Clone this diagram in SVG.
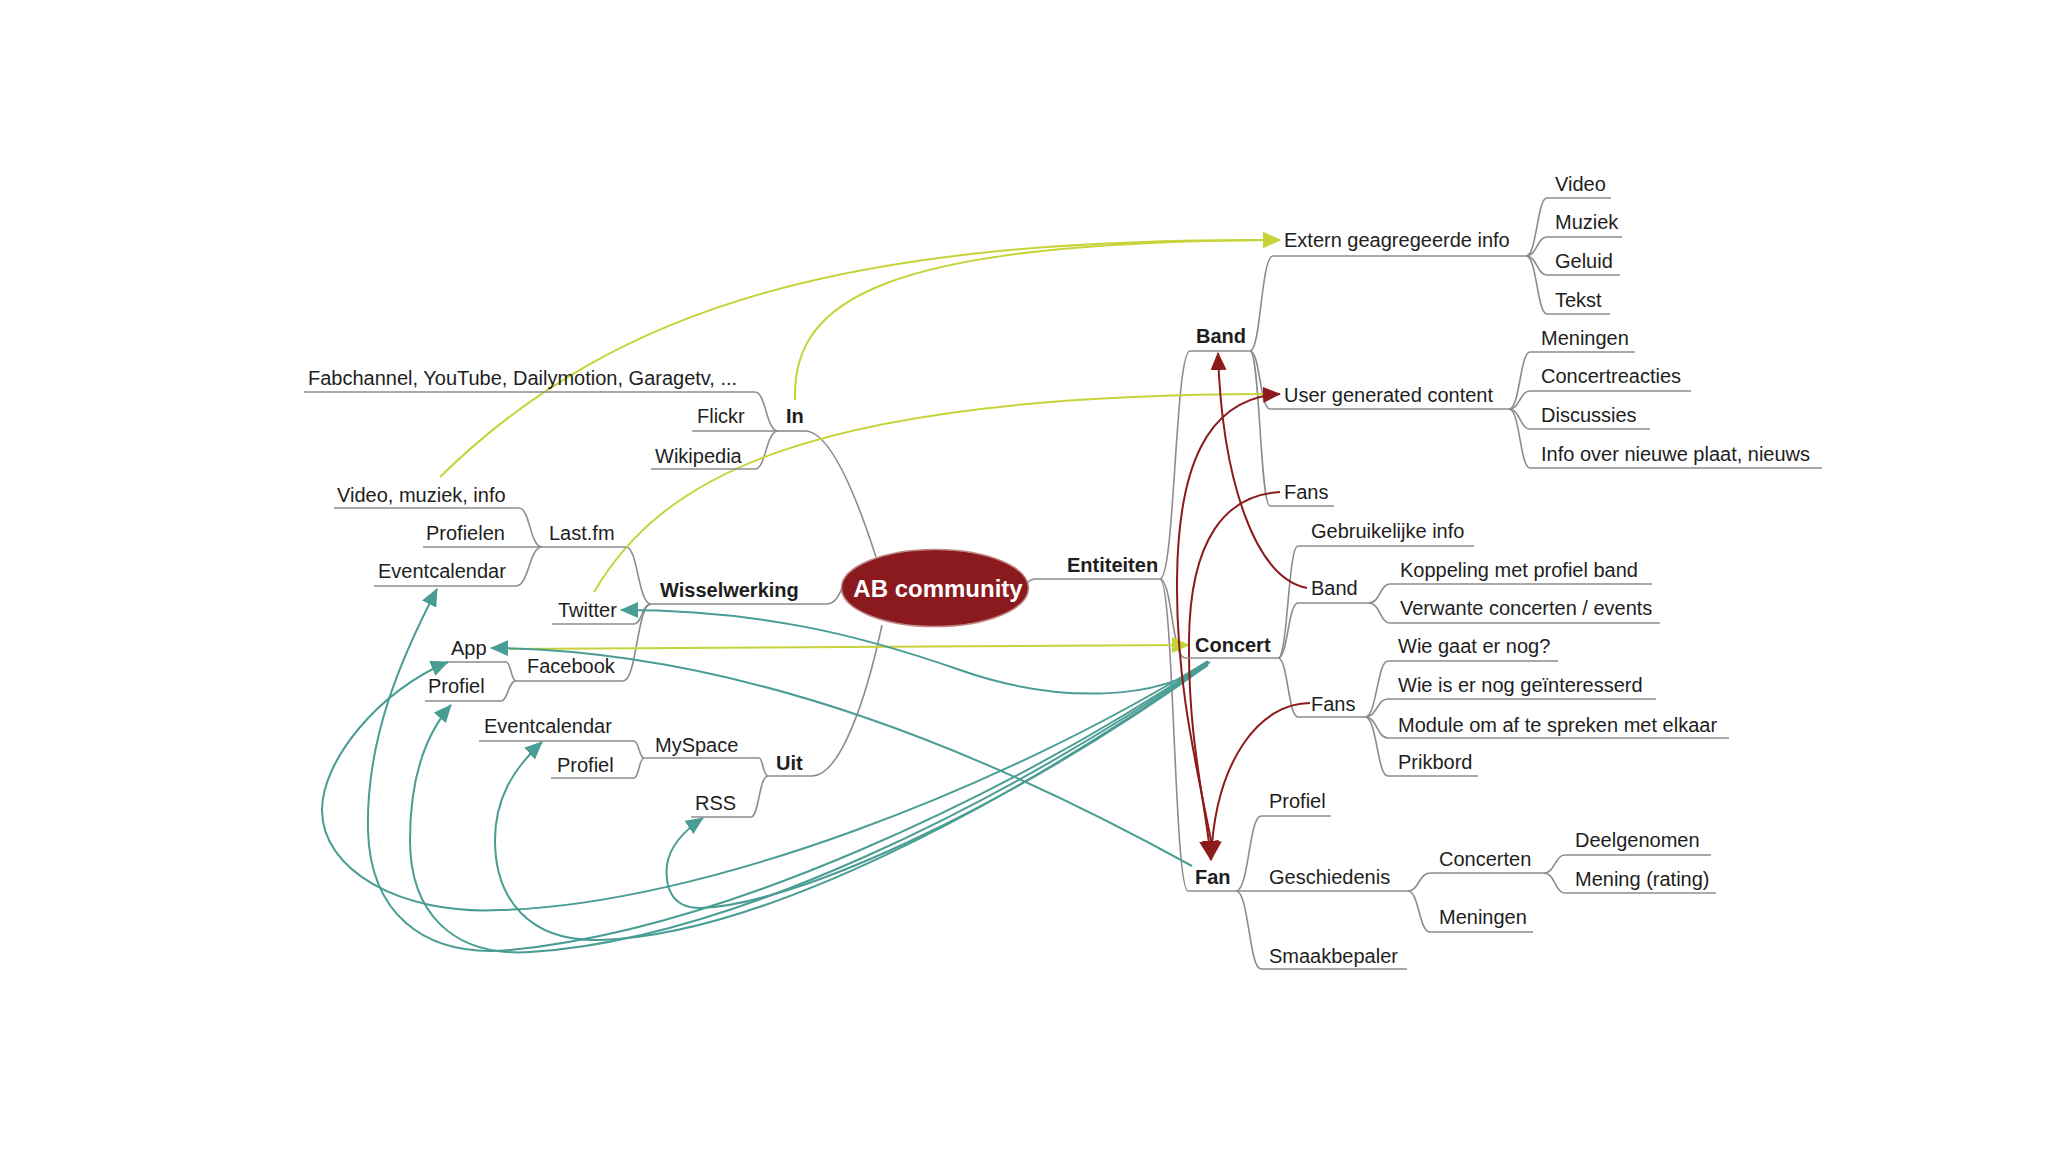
<svg xmlns="http://www.w3.org/2000/svg" width="2048" height="1157" viewBox="0 0 2048 1157">
<defs>
<style>
.t{font-family:"Liberation Sans",Arial,Helvetica,sans-serif;font-size:20px;fill:#1e1e1e}
.b{font-weight:bold}
.u{fill:none;stroke:#8c8c8c;stroke-width:1.6}
.l{fill:none;stroke:#8c8c8c;stroke-width:1.6}
.teal{fill:none;stroke:#4a9d94;stroke-width:2}
.yel{fill:none;stroke:#c6d43a;stroke-width:2}
.red{fill:none;stroke:#8c1b1b;stroke-width:2}
</style>
<marker id="aT" viewBox="0 0 18 16" refX="17" refY="8" markerWidth="18" markerHeight="16" markerUnits="userSpaceOnUse" orient="auto"><path d="M0,0 L18,8 L0,16 Z" fill="#4a9d94"/></marker>
<marker id="aY" viewBox="0 0 18 16" refX="17" refY="8" markerWidth="18" markerHeight="16" markerUnits="userSpaceOnUse" orient="auto"><path d="M0,0 L18,8 L0,16 Z" fill="#c6d43a"/></marker>
<marker id="aR" viewBox="0 0 18 16" refX="17" refY="8" markerWidth="18" markerHeight="16" markerUnits="userSpaceOnUse" orient="auto"><path d="M0,0 L18,8 L0,16 Z" fill="#8c1b1b"/></marker>
<marker id="aRL" viewBox="0 0 20 20" refX="19" refY="10" markerWidth="20" markerHeight="20" markerUnits="userSpaceOnUse" orient="auto"><path d="M0,0 L20,10 L0,20 Z" fill="#8c1b1b"/></marker>
</defs>
<rect width="2048" height="1157" fill="#ffffff"/>

<g id="connectors">
<!-- root links -->
<path class="l" d="M805,431 C830,431 856,495 876,557"/>
<path class="l" d="M826,604 C834,604 838,598 842,588"/>
<path class="l" d="M812,776 C840,776 866,700 882,625"/>
<path class="l" d="M1027,583 C1030,580 1032,579 1036,579"/>
<!-- left tree -->
<path class="l" d="M778,431 C766,431 766,392 755,392"/>
<path class="l" d="M778,431 C766,431 766,469 755,469"/>
<path class="l" d="M651,604 C638,604 638,547 626,547"/>
<path class="l" d="M651,604 C642,604 642,624 634,624"/>
<path class="l" d="M651,604 C637,604 637,681 623,681"/>
<path class="l" d="M542,547 C530,547 530,508 519,508"/>
<path class="l" d="M542,547 C529,547 529,586 516,586"/>
<path class="l" d="M516,681 C511,681 511,662 506,662"/>
<path class="l" d="M516,681 C508,681 508,701 501,701"/>
<path class="l" d="M768,776 C763,776 763,758 759,758"/>
<path class="l" d="M768,776 C759,776 759,817 751,817"/>
<path class="l" d="M644,758 C639,758 639,741 634,741"/>
<path class="l" d="M644,758 C639,758 639,778 634,778"/>
<!-- right tree -->
<path class="l" d="M1160,579 C1175,579 1175,351 1190,351"/>
<path class="l" d="M1160,579 C1172,579 1172,658 1185,658"/>
<path class="l" d="M1160,579 C1174,579 1174,891 1188,891"/>
<path class="l" d="M1250,351 C1261,351 1261,256 1273,256"/>
<path class="l" d="M1250,351 C1260,351 1260,409 1270,409"/>
<path class="l" d="M1250,351 C1260,351 1260,506 1270,506"/>
<path class="l" d="M1526,256 C1537,256 1537,198 1547,198"/>
<path class="l" d="M1526,256 C1537,256 1537,237 1547,237"/>
<path class="l" d="M1526,256 C1537,256 1537,275 1547,275"/>
<path class="l" d="M1526,256 C1537,256 1537,314 1547,314"/>
<path class="l" d="M1509,409 C1520,409 1520,352 1530,352"/>
<path class="l" d="M1509,409 C1520,409 1520,391 1530,391"/>
<path class="l" d="M1509,409 C1520,409 1520,429 1530,429"/>
<path class="l" d="M1509,409 C1520,409 1520,468 1530,468"/>
<path class="l" d="M1278,658 C1288,658 1288,546 1298,546"/>
<path class="l" d="M1278,658 C1288,658 1288,603 1298,603"/>
<path class="l" d="M1278,658 C1288,658 1288,717 1298,717"/>
<path class="l" d="M1369,603 C1380,603 1380,584 1390,584"/>
<path class="l" d="M1369,603 C1380,603 1380,623 1390,623"/>
<path class="l" d="M1365,717 C1377,717 1377,661 1388,661"/>
<path class="l" d="M1365,717 C1377,717 1377,699 1388,699"/>
<path class="l" d="M1365,717 C1377,717 1377,738 1388,738"/>
<path class="l" d="M1365,717 C1377,717 1377,776 1388,776"/>
<path class="l" d="M1236,891 C1249,891 1249,816 1261,816"/>
<path class="l" d="M1236,891 C1249,891 1249,969 1261,969"/>
<path class="l" d="M1408,891 C1419,891 1419,873 1430,873"/>
<path class="l" d="M1408,891 C1419,891 1419,932 1430,932"/>
<path class="l" d="M1544,873 C1555,873 1555,855 1565,855"/>
<path class="l" d="M1544,873 C1555,873 1555,893 1565,893"/>
<!-- yellow relations -->
<path class="yel" d="M440,477 C620,300 860,238 1280,240" marker-end="url(#aY)"/>
<path class="yel" d="M795,400 C792,300 880,242 1280,240" marker-end="url(#aY)"/>
<path class="yel" d="M594,592 C660,480 800,395 1266,394"/>
<path class="yel" d="M509,649 L1189,645" marker-end="url(#aY)"/>
<!-- teal relations -->
<path class="teal" d="M1208,661 C1000,790 700,905 500,910 C400,915 322,870 322,810 C322,760 380,690 448,662" marker-end="url(#aT)"/>
<path class="teal" d="M1208,662 C1000,800 720,930 510,950 C420,958 370,910 368,830 C366,740 400,660 437,589" marker-end="url(#aT)"/>
<path class="teal" d="M1208,663 C1000,805 730,940 530,952 C450,957 410,910 410,840 C410,780 425,735 451,705" marker-end="url(#aT)"/>
<path class="teal" d="M1208,664 C1000,810 760,935 600,940 C530,942 495,900 495,840 C495,800 512,770 542,742" marker-end="url(#aT)"/>
<path class="teal" d="M1208,665 C1020,800 800,905 700,908 C670,908 665,885 667,865 C670,845 685,830 703,818" marker-end="url(#aT)"/>
<path class="teal" d="M1210,662 C1160,700 1060,705 960,670 C860,635 760,610 621,610" marker-end="url(#aT)"/>
<path class="teal" d="M1192,866 C1000,760 750,650 491,648" marker-end="url(#aT)"/>
<!-- red relations -->
<path class="red" d="M1307,588 C1255,578 1222,480 1218,353" marker-end="url(#aR)"/>
<path class="red" d="M1212,845 C1195,760 1176,680 1177,580 C1178,470 1205,398 1280,394" marker-end="url(#aR)"/>
<path class="red" d="M1280,492 C1225,495 1190,540 1189,640 C1188,740 1205,800 1211,860" marker-end="url(#aRL)"/>
<path class="red" d="M1310,703 C1260,703 1215,760 1211,860" marker-end="url(#aRL)"/>
</g>

<g id="root">
<ellipse cx="935" cy="588" rx="93.5" ry="38.5" fill="#8b1a1f" stroke="#c08585" stroke-width="1.5"/>
<text x="938" y="597" text-anchor="middle" style="font-family:'Liberation Sans',Arial,sans-serif;font-size:24px;font-weight:bold;fill:#ffffff">AB community</text>
</g>

<g id="n-in"><text class="t b" x="786" y="423">In</text><path class="u" d="M778,431 H805"/></g>
<g id="n-fab"><text class="t" x="308" y="385">Fabchannel, YouTube, Dailymotion, Garagetv, ...</text><path class="u" d="M304,392 H755"/></g>
<g id="n-flickr"><text class="t" x="697" y="423">Flickr</text><path class="u" d="M692,431 H778"/></g>
<g id="n-wiki"><text class="t" x="655" y="463">Wikipedia</text><path class="u" d="M651,469 H755"/></g>
<g id="n-wissel"><text class="t b" x="660" y="597">Wisselwerking</text><path class="u" d="M651,604 H826"/></g>
<g id="n-lastfm"><text class="t" x="549" y="540">Last.fm</text><path class="u" d="M542,547 H626"/></g>
<g id="n-vmi"><text class="t" x="337" y="502">Video, muziek, info</text><path class="u" d="M334,508 H519"/></g>
<g id="n-profielen"><text class="t" x="426" y="540">Profielen</text><path class="u" d="M423,547 H542"/></g>
<g id="n-eventcal1"><text class="t" x="378" y="578">Eventcalendar</text><path class="u" d="M374,586 H516"/></g>
<g id="n-twitter"><text class="t" x="558" y="617">Twitter</text><path class="u" d="M552,624 H634"/></g>
<g id="n-facebook"><text class="t" x="527" y="673">Facebook</text><path class="u" d="M516,681 H623"/></g>
<g id="n-app"><text class="t" x="451" y="655">App</text><path class="u" d="M448,662 H506"/></g>
<g id="n-profiel1"><text class="t" x="428" y="693">Profiel</text><path class="u" d="M425,701 H501"/></g>
<g id="n-uit"><text class="t b" x="776" y="770">Uit</text><path class="u" d="M768,776 H812"/></g>
<g id="n-myspace"><text class="t" x="655" y="752">MySpace</text><path class="u" d="M644,758 H759"/></g>
<g id="n-rss"><text class="t" x="695" y="810">RSS</text><path class="u" d="M691,817 H751"/></g>
<g id="n-eventcal2"><text class="t" x="484" y="733">Eventcalendar</text><path class="u" d="M479,741 H634"/></g>
<g id="n-profiel2"><text class="t" x="557" y="772">Profiel</text><path class="u" d="M551,778 H634"/></g>

<g id="n-entiteiten"><text class="t b" x="1067" y="572">Entiteiten</text><path class="u" d="M1036,579 H1160"/></g>
<g id="n-band"><text class="t b" x="1196" y="343">Band</text><path class="u" d="M1190,351 H1250"/></g>
<g id="n-extern"><text class="t" x="1284" y="247">Extern geagregeerde info</text><path class="u" d="M1273,256 H1526"/></g>
<g id="n-video"><text class="t" x="1555" y="191">Video</text><path class="u" d="M1547,198 H1611"/></g>
<g id="n-muziek"><text class="t" x="1555" y="229">Muziek</text><path class="u" d="M1547,237 H1622"/></g>
<g id="n-geluid"><text class="t" x="1555" y="268">Geluid</text><path class="u" d="M1547,275 H1620"/></g>
<g id="n-tekst"><text class="t" x="1555" y="307">Tekst</text><path class="u" d="M1547,314 H1610"/></g>
<g id="n-ugc"><text class="t" x="1284" y="402">User generated content</text><path class="u" d="M1270,409 H1509"/></g>
<g id="n-meningen1"><text class="t" x="1541" y="345">Meningen</text><path class="u" d="M1530,352 H1635"/></g>
<g id="n-concertreacties"><text class="t" x="1541" y="383">Concertreacties</text><path class="u" d="M1530,391 H1691"/></g>
<g id="n-discussies"><text class="t" x="1541" y="422">Discussies</text><path class="u" d="M1530,429 H1650"/></g>
<g id="n-info"><text class="t" x="1541" y="461">Info over nieuwe plaat, nieuws</text><path class="u" d="M1530,468 H1822"/></g>
<g id="n-fans1"><text class="t" x="1284" y="499">Fans</text><path class="u" d="M1270,506 H1334"/></g>
<g id="n-concert"><text class="t b" x="1195" y="652">Concert</text><path class="u" d="M1185,658 H1278"/></g>
<g id="n-gebr"><text class="t" x="1311" y="538">Gebruikelijke info</text><path class="u" d="M1298,546 H1474"/></g>
<g id="n-band2"><text class="t" x="1311" y="595">Band</text><path class="u" d="M1298,603 H1369"/></g>
<g id="n-koppeling"><text class="t" x="1400" y="577">Koppeling met profiel band</text><path class="u" d="M1390,584 H1652"/></g>
<g id="n-verwante"><text class="t" x="1400" y="615">Verwante concerten / events</text><path class="u" d="M1390,623 H1660"/></g>
<g id="n-fans2"><text class="t" x="1311" y="711">Fans</text><path class="u" d="M1298,717 H1365"/></g>
<g id="n-wiegaat"><text class="t" x="1398" y="653">Wie gaat er nog?</text><path class="u" d="M1388,661 H1558"/></g>
<g id="n-wieis"><text class="t" x="1398" y="692">Wie is er nog geïnteresserd</text><path class="u" d="M1388,699 H1656"/></g>
<g id="n-module"><text class="t" x="1398" y="732">Module om af te spreken met elkaar</text><path class="u" d="M1388,738 H1729"/></g>
<g id="n-prikbord"><text class="t" x="1398" y="769">Prikbord</text><path class="u" d="M1388,776 H1478"/></g>
<g id="n-fan"><text class="t b" x="1195" y="884">Fan</text><path class="u" d="M1188,891 H1236"/></g>
<g id="n-profiel3"><text class="t" x="1269" y="808">Profiel</text><path class="u" d="M1261,816 H1331"/></g>
<g id="n-gesch"><text class="t" x="1269" y="884">Geschiedenis</text><path class="u" d="M1236,891 H1408"/></g>
<g id="n-smaak"><text class="t" x="1269" y="963">Smaakbepaler</text><path class="u" d="M1261,969 H1407"/></g>
<g id="n-concerten"><text class="t" x="1439" y="866">Concerten</text><path class="u" d="M1430,873 H1544"/></g>
<g id="n-meningen2"><text class="t" x="1439" y="924">Meningen</text><path class="u" d="M1430,932 H1533"/></g>
<g id="n-deel"><text class="t" x="1575" y="847">Deelgenomen</text><path class="u" d="M1565,855 H1711"/></g>
<g id="n-mening"><text class="t" x="1575" y="886">Mening (rating)</text><path class="u" d="M1565,893 H1716"/></g>
</svg>
